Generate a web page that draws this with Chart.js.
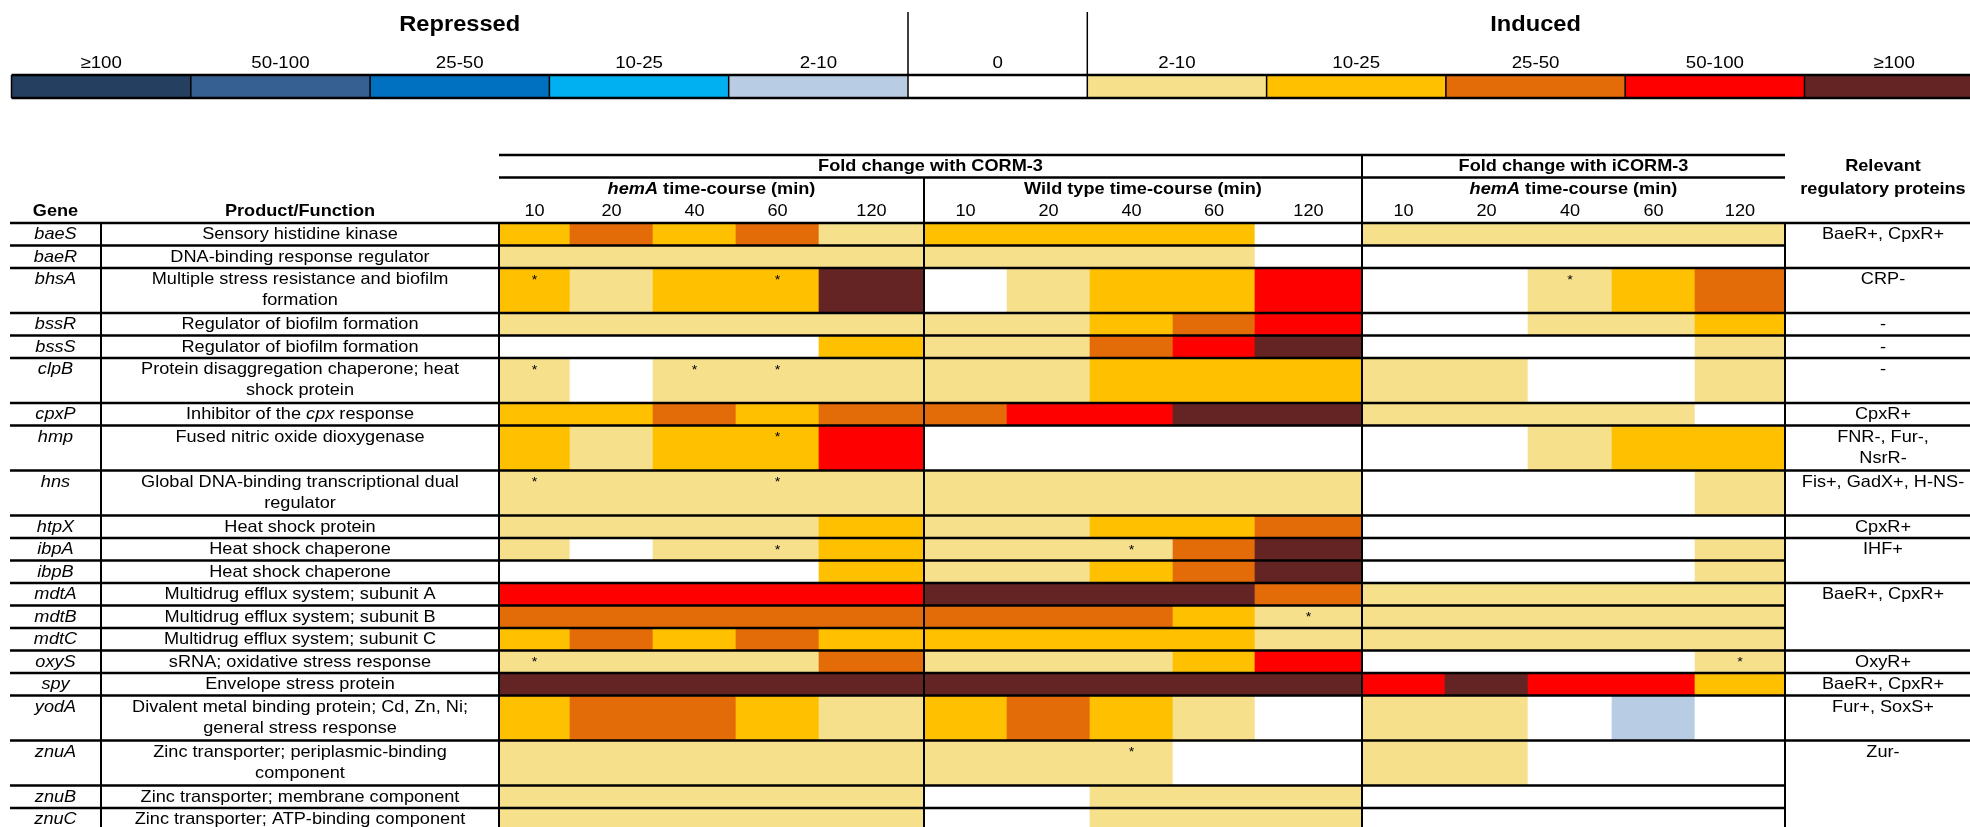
<!DOCTYPE html>
<html>
<head>
<meta charset="utf-8">
<title>Fold change with CORM-3 / iCORM-3</title>
<script src="https://cdn.jsdelivr.net/npm/chart.js@4.4.1/dist/chart.umd.min.js"></script>
<style>
  html, body { margin: 0; padding: 0; background: #ffffff; overflow: hidden; }
  #wrap { position: relative; width: 1970px; height: 827px; }
</style>
</head>
<body>
<div id="wrap"><canvas id="heat"></canvas></div>
<script>
// ---------------------------------------------------------------
// Data
// Fold-change classes: 0 = no change, 1..5 = induced (2-10, 10-25,
// 25-50, 50-100, >=100), -1..-5 = repressed (same bands).
// ---------------------------------------------------------------
const genes = ['baeS', 'baeR', 'bhsA', 'bssR', 'bssS', 'clpB', 'cpxP', 'hmp', 'hns', 'htpX',
  'ibpA', 'ibpB', 'mdtA', 'mdtB', 'mdtC', 'oxyS', 'spy', 'yodA', 'znuA', 'znuB', 'znuC'];

const products = [
  'Sensory histidine kinase',
  'DNA-binding response regulator',
  'Multiple stress resistance and biofilm\nformation',
  'Regulator of biofilm formation',
  'Regulator of biofilm formation',
  'Protein disaggregation chaperone; heat\nshock protein',
  'Inhibitor of the _cpx_ response',
  'Fused nitric oxide dioxygenase',
  'Global DNA-binding transcriptional dual\nregulator',
  'Heat shock protein',
  'Heat shock chaperone',
  'Heat shock chaperone',
  'Multidrug efflux system; subunit A',
  'Multidrug efflux system; subunit B',
  'Multidrug efflux system; subunit C',
  'sRNA; oxidative stress response',
  'Envelope stress protein',
  'Divalent metal binding protein; Cd, Zn, Ni;\ngeneral stress response',
  'Zinc transporter; periplasmic-binding\ncomponent',
  'Zinc transporter; membrane component',
  'Zinc transporter; ATP-binding component'
];

const timePoints = ['10', '20', '40', '60', '120'];

// hemA mutant, CORM-3 time-course
const hemaCorm3 = [
  [2, 3, 2, 3, 1], [1, 1, 1, 1, 1], [2, 1, 2, 2, 5], [1, 1, 1, 1, 1], [0, 0, 0, 0, 2],
  [1, 0, 1, 1, 1], [2, 2, 3, 2, 3], [2, 1, 2, 2, 4], [1, 1, 1, 1, 1], [1, 1, 1, 1, 2],
  [1, 0, 1, 1, 2], [0, 0, 0, 0, 2], [4, 4, 4, 4, 4], [3, 3, 3, 3, 3], [2, 3, 2, 3, 2],
  [1, 1, 1, 1, 3], [5, 5, 5, 5, 5], [2, 3, 3, 2, 1], [1, 1, 1, 1, 1], [1, 1, 1, 1, 1],
  [1, 1, 1, 1, 1]
];

// Wild type, CORM-3 time-course
const wildTypeCorm3 = [
  [2, 2, 2, 2, 0], [1, 1, 1, 1, 0], [0, 1, 2, 2, 4], [1, 1, 2, 3, 4], [1, 1, 3, 4, 5],
  [1, 1, 2, 2, 2], [3, 4, 4, 5, 5], [0, 0, 0, 0, 0], [1, 1, 1, 1, 1], [1, 1, 2, 2, 3],
  [1, 1, 1, 3, 5], [1, 1, 2, 3, 5], [5, 5, 5, 5, 3], [3, 3, 3, 2, 1], [2, 2, 2, 2, 1],
  [1, 1, 1, 2, 4], [5, 5, 5, 5, 5], [2, 3, 2, 1, 0], [1, 1, 1, 0, 0], [0, 0, 1, 1, 1],
  [0, 0, 1, 1, 1]
];

// hemA mutant, iCORM-3 time-course
const hemaIcorm3 = [
  [1, 1, 1, 1, 1], [0, 0, 0, 0, 0], [0, 0, 1, 2, 3], [0, 0, 1, 1, 2], [0, 0, 0, 0, 1],
  [1, 1, 0, 0, 1], [1, 1, 1, 1, 0], [0, 0, 1, 2, 2], [0, 0, 0, 0, 1], [0, 0, 0, 0, 0],
  [0, 0, 0, 0, 1], [0, 0, 0, 0, 1], [1, 1, 1, 1, 1], [1, 1, 1, 1, 1], [1, 1, 1, 1, 1],
  [0, 0, 0, 0, 1], [4, 5, 4, 4, 2], [1, 1, 0, -1, 0], [1, 1, 0, 0, 0], [0, 0, 0, 0, 0],
  [0, 0, 0, 0, 0]
];

// Cells marked with an asterisk: [gene row, panel (0 hemA CORM-3, 1 WT CORM-3, 2 hemA iCORM-3), time index]
const asterisks = [
  [2, 0, 0], [2, 0, 3], [2, 2, 2],
  [5, 0, 0], [5, 0, 2], [5, 0, 3],
  [7, 0, 3],
  [8, 0, 0], [8, 0, 3],
  [10, 0, 3], [10, 1, 2],
  [13, 1, 4],
  [15, 0, 0], [15, 2, 4],
  [18, 1, 2]
];

// Relevant regulatory proteins: text, first gene row, number of rows covered
const regulatorText = ['BaeR+, CpxR+', 'CRP-', '-', '-', '-', 'CpxR+', 'FNR-, Fur-,\nNsrR-',
  'Fis+, GadX+, H-NS-', 'CpxR+', 'IHF+', 'BaeR+, CpxR+', 'OxyR+', 'BaeR+, CpxR+', 'Fur+, SoxS+', 'Zur-'];
const regulatorFirstRow = [0, 2, 3, 4, 5, 6, 7, 8, 9, 10, 12, 15, 16, 17, 18];
const regulatorRowCount = [2, 1, 1, 1, 1, 1, 1, 1, 1, 2, 3, 1, 1, 1, 3];

const legendLabels = ['\u2265100', '50-100', '25-50', '10-25', '2-10', '0', '2-10', '10-25', '25-50', '50-100', '\u2265100'];
const legendClasses = [-5, -4, -3, -2, -1, 0, 1, 2, 3, 4, 5];

// ---------------------------------------------------------------
// Styles
// ---------------------------------------------------------------
const classColors = {
  '-5': '#243F60', '-4': '#366092', '-3': '#0070C0', '-2': '#00B0F0', '-1': '#B8CCE4',
  '0': '#FFFFFF',
  '1': '#F6E08C', '2': '#FFC000', '3': '#E36C09', '4': '#FF0000', '5': '#632423'
};
const FAMILY = "'Liberation Sans', Arial, Helvetica, sans-serif";
const TEXT_SIZE = 16.5;
const TEXT_STRETCH = 1.1;   // glyphs are set slightly wide

// ---------------------------------------------------------------
// Table layout (scale units = canvas pixels)
// ---------------------------------------------------------------
const W = 1970, H = 827;
const rowLines = [1, 1, 2, 1, 1, 2, 1, 2, 2, 1, 1, 1, 1, 1, 1, 1, 1, 2, 2, 1, 1];
const ROW_UNIT = 22.5;
const TABLE_TOP = 223;
const HEADER_TOP = 155, HEADER_MID = 177.5;
const TABLE_LEFT = 10;
const GENE_RIGHT = 101, PRODUCT_RIGHT = 499, DATA_RIGHT = 1785;
const dataEdges = [499, 570, 653, 736, 819, 924, 1007, 1090, 1173, 1255, 1362, 1445, 1528, 1612, 1695, 1785];
const REG_CENTER = 1883;
const LEGEND_LEFT = 11.5, LEGEND_STEP = 179.3, LEGEND_TOP = 75, LEGEND_BOTTOM = 98;

const rowTop = [];
let acc = TABLE_TOP;
rowLines.forEach(n => { rowTop.push(acc); acc += n * ROW_UNIT; });
const rowBottom = acc;
const rowMid = i => rowTop[i] + rowLines[i] * ROW_UNIT / 2;

const panels = [hemaCorm3, wildTypeCorm3, hemaIcorm3];
const oneLineCells = [];
const twoLineCells = [];
genes.forEach((g, i) => {
  panels.forEach((panel, p) => {
    panel[i].forEach((v, j) => {
      const k = p * timePoints.length + j;
      const cell = { x: [dataEdges[k], dataEdges[k + 1]], y: rowMid(i), v };
      (rowLines[i] === 2 ? twoLineCells : oneLineCells).push(cell);
    });
  });
});
const legendCells = legendClasses.map((v, i) => ({
  x: [LEGEND_LEFT + i * LEGEND_STEP, LEGEND_LEFT + (i + 1) * LEGEND_STEP],
  y: (LEGEND_TOP + LEGEND_BOTTOM) / 2,
  v
}));

const cellStyle = {
  borderWidth: 0,
  borderSkipped: false,
  barPercentage: 1,
  categoryPercentage: 1,
  grouped: false,
  backgroundColor: ctx => (ctx.raw ? classColors[ctx.raw.v] : '#ffffff')
};

// ---------------------------------------------------------------
// Text helpers
// ---------------------------------------------------------------
function fontOf(size, bold, italic) {
  return `${italic ? 'italic ' : ''}${bold ? 'bold ' : ''}${size}px ${FAMILY}`;
}
// text with _italic_ runs, centred on cx
function richText(ctx, text, cx, cy, size, bold) {
  const segs = text.split('_').map((t, n) => ({ t, it: n % 2 === 1 })).filter(s => s.t.length);
  let total = 0;
  segs.forEach(s => {
    ctx.font = fontOf(size, bold, s.it);
    s.w = ctx.measureText(s.t).width * TEXT_STRETCH;
    total += s.w;
  });
  let x = cx - total / 2;
  ctx.textAlign = 'left';
  segs.forEach(s => {
    ctx.font = fontOf(size, bold, s.it);
    ctx.save();
    ctx.translate(x, cy);
    ctx.scale(TEXT_STRETCH, 1);
    ctx.fillText(s.t, 0, 0);
    ctx.restore();
    x += s.w;
  });
}

const tablePlugin = {
  id: 'tableFrame',
  afterDatasetsDraw(chart) {
    const ctx = chart.ctx;
    const X = v => chart.scales.x.getPixelForValue(v);
    const Y = v => chart.scales.y.getPixelForValue(v);
    ctx.save();
    ctx.strokeStyle = '#000000';
    ctx.fillStyle = '#000000';
    ctx.textBaseline = 'middle';

    const hline = (x0, x1, y, w) => { ctx.lineWidth = w; ctx.beginPath(); ctx.moveTo(X(x0), Y(y)); ctx.lineTo(X(x1), Y(y)); ctx.stroke(); };
    const vline = (x, y0, y1, w) => { ctx.lineWidth = w; ctx.beginPath(); ctx.moveTo(X(x), Y(y0)); ctx.lineTo(X(x), Y(y1)); ctx.stroke(); };

    // ---- colour key ----
    richText(ctx, 'Repressed', X(LEGEND_LEFT + 2.5 * LEGEND_STEP), Y(25), 21.5, true);
    richText(ctx, 'Induced', X(LEGEND_LEFT + 8.5 * LEGEND_STEP), Y(25), 21.5, true);
    legendLabels.forEach((lab, i) => {
      richText(ctx, lab, X(LEGEND_LEFT + (i + 0.5) * LEGEND_STEP), Y(63), 17, false);
    });
    hline(LEGEND_LEFT, W, LEGEND_TOP, 2.5);
    hline(LEGEND_LEFT, W, LEGEND_BOTTOM, 2.5);
    for (let i = 0; i <= 11; i++) vline(LEGEND_LEFT + i * LEGEND_STEP, LEGEND_TOP, LEGEND_BOTTOM, 1.5);
    vline(LEGEND_LEFT + 5 * LEGEND_STEP, 12, LEGEND_TOP, 1.5);
    vline(LEGEND_LEFT + 6 * LEGEND_STEP, 12, LEGEND_TOP, 1.5);

    // ---- column headers ----
    const panelMid = p => (dataEdges[p * 5] + dataEdges[p * 5 + 5]) / 2;
    richText(ctx, 'Fold change with CORM-3', X((dataEdges[0] + dataEdges[10]) / 2), Y(166.5), TEXT_SIZE, true);
    richText(ctx, 'Fold change with iCORM-3', X(panelMid(2)), Y(166.5), TEXT_SIZE, true);
    richText(ctx, '_hemA_ time-course (min)', X(panelMid(0)), Y(189), TEXT_SIZE, true);
    richText(ctx, 'Wild type time-course (min)', X(panelMid(1)), Y(189), TEXT_SIZE, true);
    richText(ctx, '_hemA_ time-course (min)', X(panelMid(2)), Y(189), TEXT_SIZE, true);
    richText(ctx, 'Relevant', X(REG_CENTER), Y(166.5), TEXT_SIZE, true);
    richText(ctx, 'regulatory proteins', X(REG_CENTER), Y(189), TEXT_SIZE, true);
    richText(ctx, 'Gene', X((TABLE_LEFT + GENE_RIGHT) / 2), Y(211.5), TEXT_SIZE, true);
    richText(ctx, 'Product/Function', X((GENE_RIGHT + PRODUCT_RIGHT) / 2), Y(211.5), TEXT_SIZE, true);
    for (let p = 0; p < 3; p++) {
      timePoints.forEach((t, j) => {
        const k = p * 5 + j;
        richText(ctx, t, X((dataEdges[k] + dataEdges[k + 1]) / 2), Y(211.5), TEXT_SIZE, false);
      });
    }

    // ---- row texts ----
    const LINE = 21;
    genes.forEach((g, i) => {
      richText(ctx, '_' + g + '_', X((TABLE_LEFT + GENE_RIGHT) / 2), Y(rowTop[i] + 11.5), TEXT_SIZE, false);
      products[i].split('\n').forEach((ln, n) => {
        richText(ctx, ln, X((GENE_RIGHT + PRODUCT_RIGHT) / 2), Y(rowTop[i] + 11.5 + n * LINE), TEXT_SIZE, false);
      });
    });
    regulatorText.forEach((txt, r) => {
      const top = rowTop[regulatorFirstRow[r]];
      txt.split('\n').forEach((ln, n) => {
        richText(ctx, ln, X(REG_CENTER), Y(top + 11.5 + n * LINE), TEXT_SIZE, false);
      });
    });
    ctx.textBaseline = 'alphabetic';
    asterisks.forEach(([i, p, j]) => {
      const k = p * 5 + j;
      richText(ctx, '*', X((dataEdges[k] + dataEdges[k + 1]) / 2), Y(rowTop[i] + 15.5), 13, false);
    });

    // ---- rules ----
    hline(dataEdges[0], DATA_RIGHT, HEADER_TOP, 2.5);
    hline(dataEdges[0], DATA_RIGHT, HEADER_MID, 2.5);
    hline(TABLE_LEFT, W, TABLE_TOP, 2.5);
    for (let i = 1; i < genes.length; i++) {
      const y = rowTop[i];
      const inside = regulatorFirstRow.some((f, r) => f < i && i < f + regulatorRowCount[r]);
      hline(TABLE_LEFT, inside ? DATA_RIGHT : W, y, 2.5);
    }
    vline(GENE_RIGHT, TABLE_TOP, rowBottom, 2);
    vline(PRODUCT_RIGHT, TABLE_TOP, rowBottom, 2);
    vline(dataEdges[5], HEADER_MID, rowBottom, 2);
    vline(dataEdges[10], HEADER_TOP, rowBottom, 2);
    vline(DATA_RIGHT, TABLE_TOP, rowBottom, 2);

    ctx.restore();
  }
};

const rowAxis = { type: 'linear', axis: 'y', position: 'left', min: 0, max: H, reverse: true, offset: false, display: false, ticks: { stepSize: 1000 } };

new Chart(document.getElementById('heat'), {
  type: 'bar',
  data: {
    datasets: [
      { label: 'Colour key', data: legendCells, yAxisID: 'y', ...cellStyle },
      { label: 'One-line rows', data: oneLineCells, yAxisID: 'y', ...cellStyle },
      { label: 'Two-line rows', data: twoLineCells, yAxisID: 'y2', ...cellStyle }
    ]
  },
  options: {
    indexAxis: 'y',
    responsive: true,
    maintainAspectRatio: false,
    devicePixelRatio: 1,
    animation: false,
    events: [],
    layout: { padding: 0 },
    plugins: { legend: { display: false }, tooltip: { enabled: false }, title: { display: false } },
    scales: {
      x: { type: 'linear', min: 0, max: W, offset: false, display: false },
      y: { ...rowAxis },
      y2: { ...rowAxis }
    }
  },
  plugins: [tablePlugin]
});
</script>
</body>
</html>
